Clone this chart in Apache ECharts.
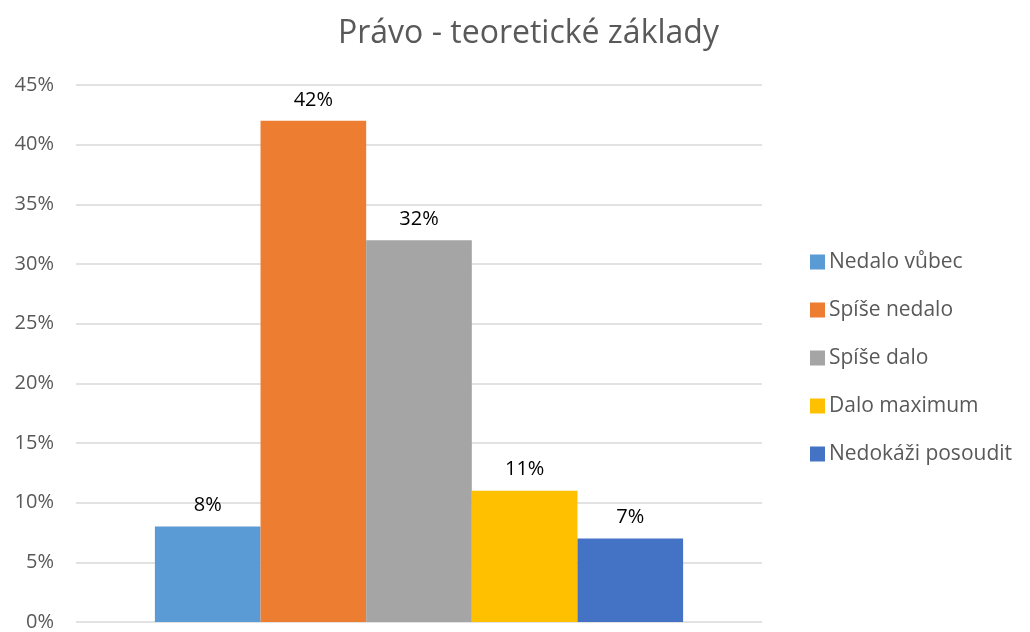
<!DOCTYPE html>
<html>
<head>
<meta charset="utf-8">
<script src="https://cdn.jsdelivr.net/npm/echarts@6/dist/echarts.min.js"></script>
<style>
  html, body { margin: 0; padding: 0; background: #fff; }
  #chart { width: 1030px; height: 632px; }
</style>
</head>
<body>
<div id="chart"></div>
<script>
// data
const seriesNames = ['Nedalo vůbec', 'Spíše nedalo', 'Spíše dalo', 'Dalo maximum', 'Nedokáži posoudit']
const values = [8, 42, 32, 11, 7]
const colors = ['#5b9bd5', '#ed7d31', '#a5a5a5', '#ffc000', '#4472c4']
const yTicks = [0, 5, 10, 15, 20, 25, 30, 35, 40, 45]

const font = '"Open Sans", "Noto Sans", sans-serif'

const chart = echarts.init(document.getElementById('chart'))

chart.setOption({
  animation: false,
  title: {
    text: 'Právo - teoretické základy',
    left: 333,
    top: 13,
    textStyle: { fontFamily: font, fontSize: 32, fontWeight: 'normal', color: '#595959' }
  },
  legend: {
    orient: 'vertical',
    left: 805,
    top: 246,
    itemWidth: 15,
    itemHeight: 15,
    itemGap: 26,
    icon: 'rect',
    textStyle: { fontFamily: font, fontSize: 21, lineHeight: 22, color: '#595959', padding: [0, 0, 0, -1] },
    data: seriesNames
  },
  grid: { left: 76, right: 268, top: 85, bottom: 6, containLabel: false },
  xAxis: {
    type: 'category',
    data: [''],
    axisLine: { show: false },
    axisTick: { show: false },
    axisLabel: { show: false }
  },
  yAxis: {
    type: 'value',
    min: yTicks[0],
    max: yTicks[yTicks.length - 1],
    interval: 5,
    axisLine: { show: false },
    axisTick: { show: false },
    axisLabel: {
      formatter: '{value}%',
      fontFamily: font,
      fontSize: 20,
      color: '#595959',
      margin: 22
    },
    splitLine: { lineStyle: { color: '#d9d9d9', width: 1.5 } }
  },
  series: seriesNames.map((name, i) => ({
    name: name,
    type: 'bar',
    barGap: '0%',
    barCategoryGap: '23%',
    itemStyle: { color: colors[i] },
    label: {
      show: true,
      position: 'top',
      distance: 11,
      formatter: '{c}%',
      fontFamily: font,
      fontSize: 20,
      color: '#000'
    },
    data: [values[i]]
  }))
})
</script>
</body>
</html>
